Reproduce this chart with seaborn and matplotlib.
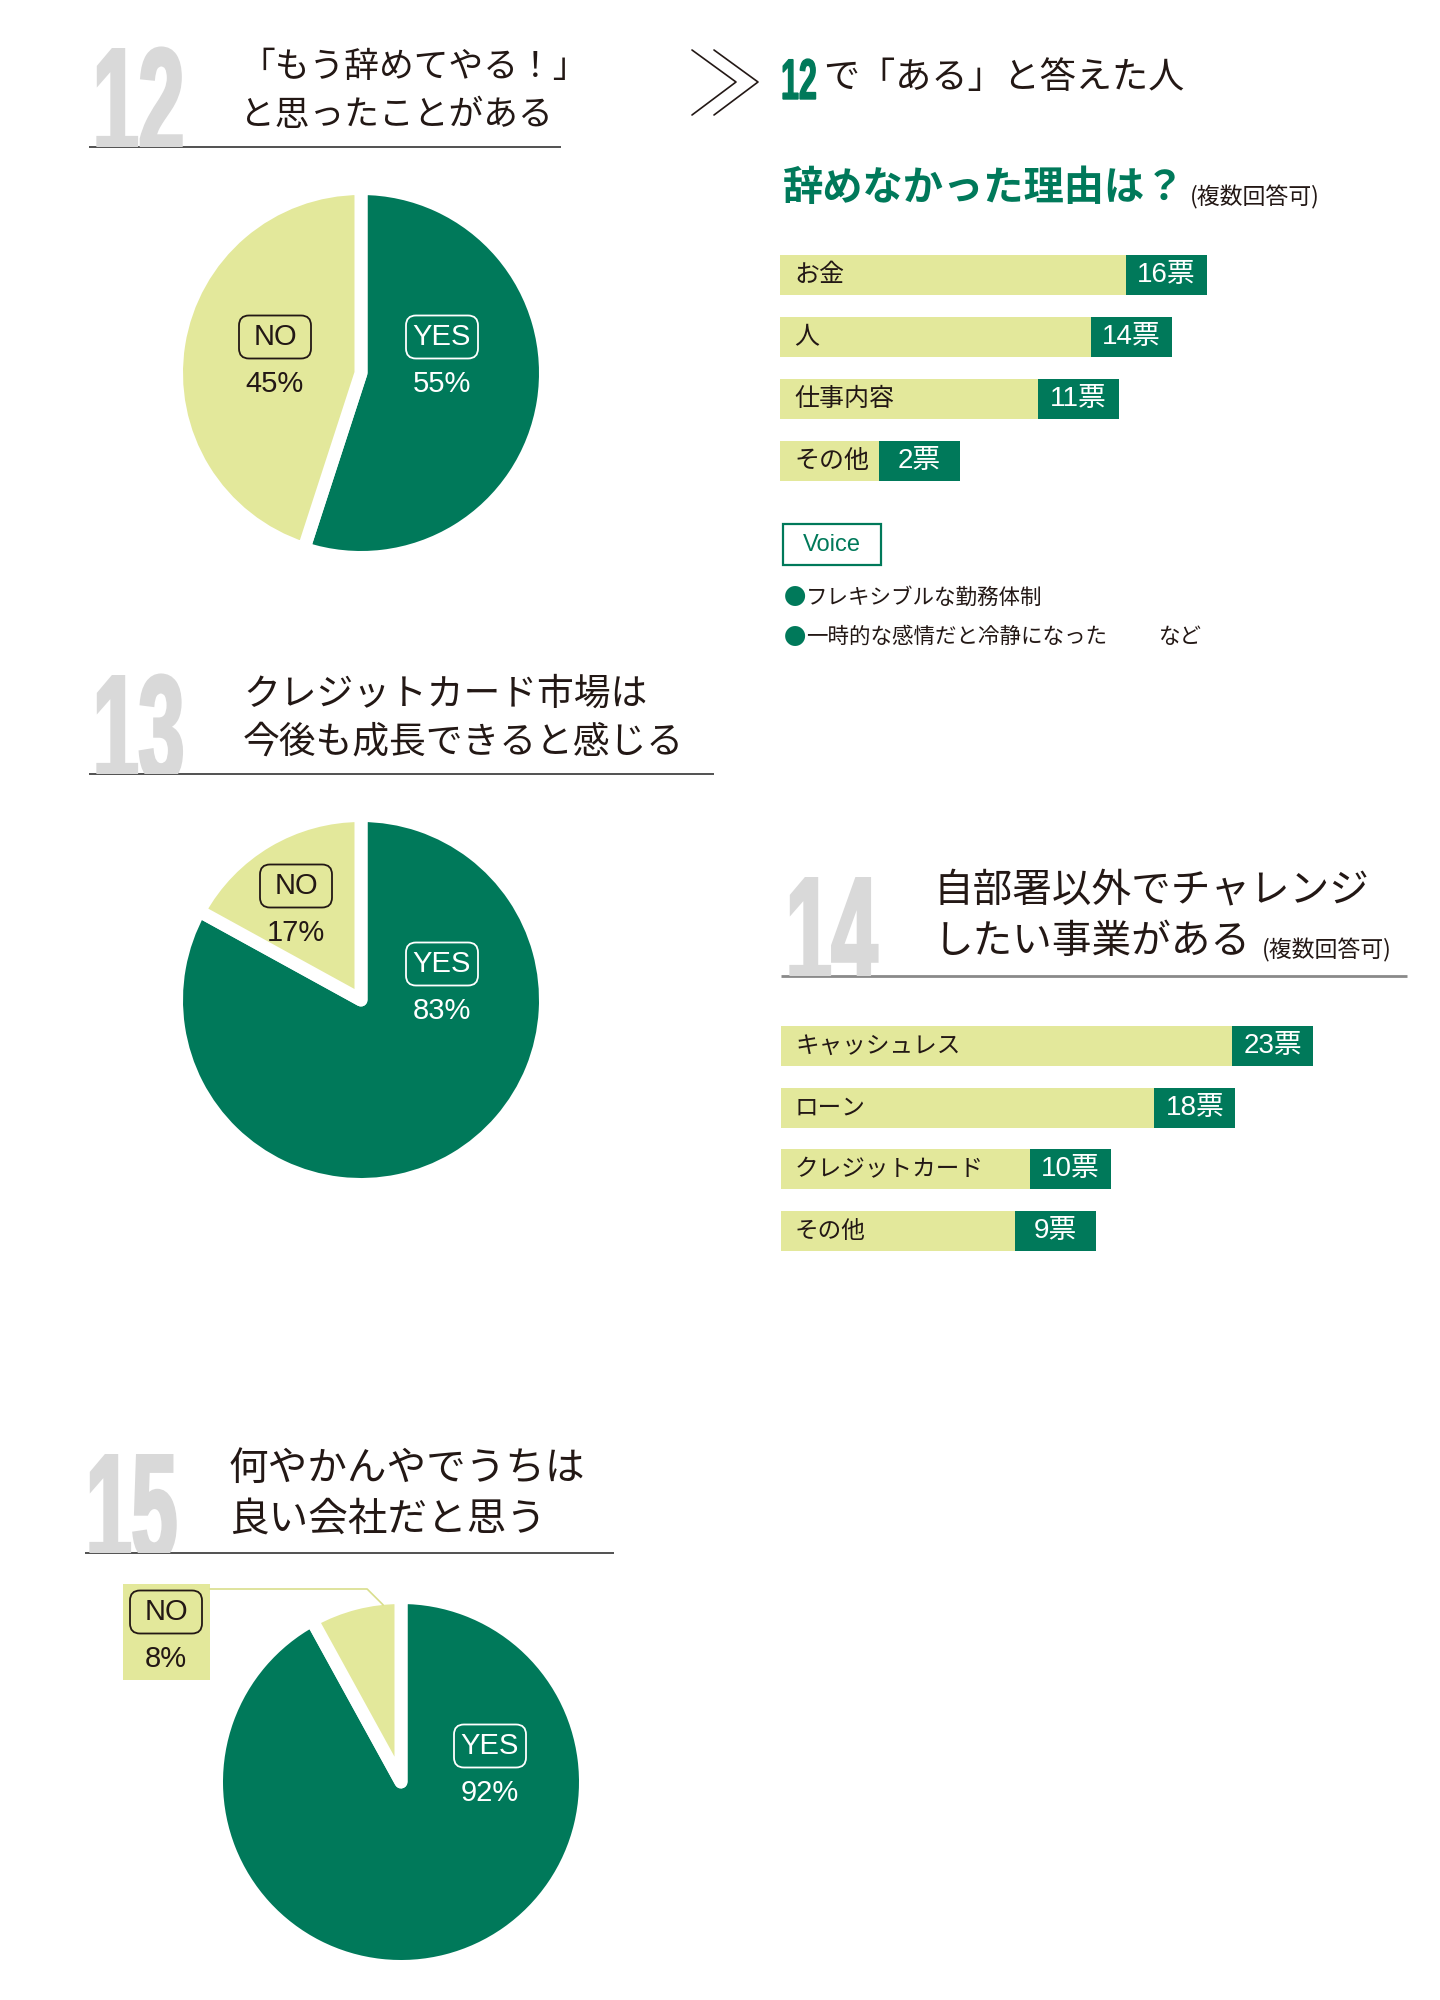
import matplotlib
matplotlib.use("Agg")
import matplotlib.pyplot as plt
import seaborn as sns
import pandas as pd
import numpy as np
from matplotlib.patches import Rectangle, FancyBboxPatch
from matplotlib.patheffects import AbstractPathEffect
from matplotlib.transforms import Affine2D

# ---- data ----
q12_labels = ["YES", "NO"]
q12_share = [55, 45]
q13_labels = ["YES", "NO"]
q13_share = [83, 17]
q15_labels = ["YES", "NO"]
q15_share = [92, 8]

reason_cats = ["お金", "人", "仕事内容", "その他"]
reason_votes = [16, 14, 11, 2]
voice_lines = ["フレキシブルな勤務体制", "一時的な感情だと冷静になった"]

challenge_cats = ["キャッシュレス", "ローン", "クレジットカード", "その他"]
challenge_votes = [23, 18, 10, 9]

# ---- style ----
sns.set_theme(style="white")
plt.rcParams['font.family'] = ['Noto Sans CJK JP', 'DejaVu Sans']

GREEN = "#00795A"
LIGHT = "#E3E89B"
GRAY = "#D9D9D9"
INK = "#231815"
LATIN = ['Liberation Sans', 'Noto Sans CJK JP']


class Stretch(AbstractPathEffect):
    """squeeze/stretch glyphs around the text anchor (condensed display digits)"""
    def __init__(self, sx, sy, stroke=0):
        super().__init__()
        self.sx, self.sy, self.stroke = sx, sy, stroke

    def draw_path(self, renderer, gc, tpath, affine, rgbFace=None):
        gc0 = renderer.new_gc()
        gc0.copy_properties(gc)
        if self.stroke and rgbFace is not None:
            gc0.set_linewidth(self.stroke)
            gc0.set_foreground(rgbFace)
            gc0.set_joinstyle('miter')
        renderer.draw_path(gc0, tpath, Affine2D().scale(self.sx, self.sy) + affine, rgbFace)
        gc0.restore()


W, H = 1440, 2000
fig = plt.figure(figsize=(W / 100, H / 100), dpi=100)
fig.patch.set_facecolor('white')

canvas = fig.add_axes([0, 0, 1, 1], zorder=10)
canvas.set_xlim(0, W)
canvas.set_ylim(H, 0)
canvas.axis('off')


def px_rect(x0, y0, x1, y1):
    return [x0 / W, 1 - y1 / H, (x1 - x0) / W, (y1 - y0) / H]


def header(num, x_num, top, line_y, lx0, lx1, lines, x_title, ys, size, line_color="#333333", lw=1.2):
    t = canvas.text(x_num + 1, line_y + 6, num, fontsize=72, family='Liberation Sans', fontweight='bold',
                    color=GRAY, ha='left', va='baseline', clip_on=True,
                    path_effects=[Stretch(0.82, 1.5, stroke=2.6)])
    t.set_clip_path(Rectangle((x_num - 20, top - 40), 300, line_y - top + 40, transform=canvas.transData))
    canvas.plot([lx0, lx1], [line_y, line_y], color=line_color, lw=lw, solid_capstyle='butt')
    for txt, y in zip(lines, ys):
        canvas.text(x_title, y, txt, fontsize=size, color=INK, ha='left', va='center')


def tag(cx, cy, text, color):
    canvas.add_patch(FancyBboxPatch((cx - 36, cy - 21.5), 72, 43, boxstyle='round,pad=0,rounding_size=10',
                                    fc='none', ec=color, lw=1.3))
    canvas.text(cx, cy, text, fontsize=21, family=LATIN, color=color, ha='center', va='center')


def draw_pie(share, labels, cx, cy, label_xy):
    R, gap = 178, 13
    rd = R + gap / 2
    ax = fig.add_axes(px_rect(cx - rd, cy - rd, cx + rd, cy + rd))
    ax.pie(share, colors=[GREEN, LIGHT], startangle=90, counterclock=False, radius=1,
           wedgeprops=dict(edgecolor='white', linewidth=gap * 0.72, joinstyle='round'))
    ax.set_xlim(-1, 1)
    ax.set_ylim(-1, 1)
    ax.set_aspect('equal')
    ax.axis('off')
    for lab, val, (lx, ly), col in zip(labels, share, label_xy, ['white', INK]):
        tag(lx, ly, lab, col)
        canvas.text(lx, ly + 47, f"{val}%", fontsize=21, family=LATIN, color=col, ha='center', va='center')
    return R


def draw_bars(cats, votes, x0, y_first, step, ppv, offset, label_size):
    n = len(cats)
    top = y_first - step / 2
    bottom = y_first + step * (n - 1) + step / 2
    width_px = 640
    ax = fig.add_axes(px_rect(x0, top, x0 + width_px, bottom))
    df = pd.DataFrame({'cat': cats, 'len': [v + offset for v in votes]})
    h = 40 / step
    sns.barplot(data=df, x='len', y='cat', color=LIGHT, saturation=1, width=h, errorbar=None,
                linewidth=0, ax=ax, orient='h')
    box = 81 / ppv
    ax.barh(range(n), [box] * n, left=[v + offset - box for v in votes], height=h, color=GREEN, linewidth=0)
    ax.set_xlim(0, width_px / ppv)
    ax.set_ylim(n - 0.5, -0.5)
    ax.axis('off')
    for i, (c, v) in enumerate(zip(cats, votes)):
        ax.text(14 / ppv, i, c, va='center', ha='left', fontsize=label_size, color=INK)
        ax.text(v + offset - box / 2, i, f"{v}票", va='center', ha='center', fontsize=20,
                family=LATIN, color='white')


# ---- Q12 ----
header("12", 92, 45, 147, 89, 561, ["「もう辞めてやる！」", "と思ったことがある"], 240, [67, 115], 25)
draw_pie(q12_share, q12_labels, 361, 373, [(442, 337), (275, 337)])

# ---- Q12 follow-up ----
for dx in (0, 22):
    canvas.plot([692 + dx, 736 + dx, 692 + dx], [50, 82, 115], color=INK, lw=1.2)
canvas.text(781, 99, "12", fontsize=29, family='Liberation Sans', fontweight='bold',
            color=GREEN, ha='left', va='baseline', path_effects=[Stretch(0.8, 1.42, stroke=1)])
canvas.text(823, 78, "で「ある」と答えた人", fontsize=26, color=INK, ha='left', va='center')
canvas.text(783, 189, "辞めなかった理由は？", fontsize=29, fontweight='bold', color=GREEN, ha='left', va='center')
canvas.text(1190, 197, "(複数回答可)", fontsize=16.5, color=INK, ha='left', va='center')

draw_bars(reason_cats, reason_votes, 780, 275, 62, 17.66, 8.18, 18)

canvas.add_patch(Rectangle((783, 524), 98, 41, fc='none', ec=GREEN, lw=1.6))
canvas.text(832, 545, "Voice", fontsize=17, family=LATIN, color=GREEN, ha='center', va='center')
for txt, y in zip(voice_lines, [598, 637]):
    canvas.text(784, y, "●", fontsize=16, color=GREEN, ha='left', va='center')
    canvas.text(806, y, txt, fontsize=15.5, color=INK, ha='left', va='center')
canvas.text(1159, 637, "など", fontsize=15.5, color=INK, ha='left', va='center')

# ---- Q13 ----
header("13", 92, 672, 774, 89, 714, ["クレジットカード市場は", "今後も成長できると感じる"], 243, [694, 742], 26.5)
draw_pie(q13_share, q13_labels, 361, 1000, [(442, 964), (296, 886)])

# ---- Q14 ----
header("14", 785, 873, 976, 781, 1407, ["自部署以外でチャレンジ", "したい事業がある"], 934, [890, 942], 28.5,
       line_color="#8a8a8a", lw=2)
canvas.text(1262, 950, "(複数回答可)", fontsize=16.5, color=INK, ha='left', va='center')
draw_bars(challenge_cats, challenge_votes, 781, 1046, 61.7, 15.54, 11.24, 17)

# ---- Q15 ----
header("15", 85, 1452, 1553, 85, 614, ["何やかんやでうちは", "良い会社だと思う"], 229, [1469, 1520], 28.5)
canvas.add_patch(Rectangle((123, 1584), 87, 96, fc=LIGHT, ec='none'))
R = draw_pie(q15_share, q15_labels, 401, 1782, [(490, 1746), (166, 1612)])
theta = np.deg2rad(90 + 360 * q15_share[1] / 100 * 0.2)
ex, ey = 401 + R * np.cos(theta), 1782 - R * np.sin(theta)
canvas.plot([210, ex - 16, ex], [1589, 1589, ey], color="#D9DE8C", lw=1.2)

fig.savefig("out.png", dpi=100, facecolor='white')
